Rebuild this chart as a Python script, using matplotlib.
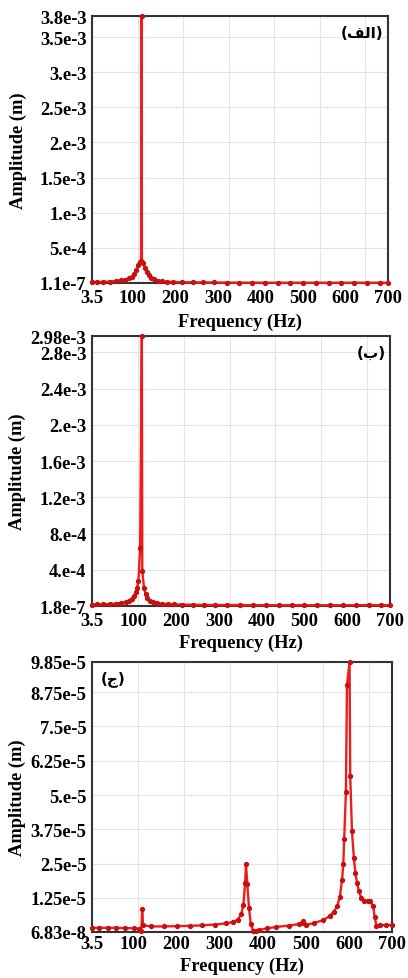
import numpy as np
import matplotlib
matplotlib.use('Agg')
import matplotlib.pyplot as plt

# ---- data ----
freqTicks = [3.5, 100, 200, 300, 400, 500, 600, 700]
freqTickLabels = ['3.5', '100', '200', '300', '400', '500', '600', '700']

# panel (alef)
freq1 = [3.5, 15, 30, 45, 60, 72, 82, 90, 97, 103, 108, 112, 116, 119, 120, 121, 124, 128,
         132, 137, 143, 150, 158, 168, 180, 195, 215, 240, 265, 290, 320, 350, 380, 410,
         440, 470, 500, 530, 560, 590, 620, 650, 680, 700]
amp1 = [1.4e-5, 1.5e-5, 1.7e-5, 2.1e-5, 2.8e-5, 3.6e-5, 4.8e-5, 6.5e-5, 9.0e-5, 1.3e-4,
        1.8e-4, 2.5e-4, 3.0e-4, 3.1e-4, 3.8e-3, 3.0e-4, 2.8e-4, 2.2e-4, 1.6e-4, 1.1e-4,
        7.5e-5, 5.0e-5, 3.4e-5, 2.4e-5, 1.8e-5, 1.5e-5, 1.2e-5, 1.0e-5, 9e-6, 8e-6, 6e-6,
        5e-6, 5e-6, 4.5e-6, 4.5e-6, 4e-6, 4e-6, 4e-6, 4e-6, 4e-6, 4e-6, 4e-6, 4e-6, 4e-6]
yTicks1 = [1.1e-7, 5e-4, 1e-3, 1.5e-3, 2e-3, 2.5e-3, 3e-3, 3.5e-3, 3.8e-3]
yTickLabels1 = ['1.1e-7', '5.e-4', '1.e-3', '1.5e-3', '2.e-3', '2.5e-3', '3.e-3', '3.5e-3', '3.8e-3']

# panel (beh)
freq2 = [3.5, 15, 30, 45, 60, 72, 82, 90, 97, 102, 106, 109, 112, 116, 120, 121, 125, 129,
         133, 139, 146, 155, 167, 180, 195, 215, 240, 265, 290, 320, 350, 380, 410, 440,
         470, 500, 530, 560, 590, 620, 650, 680, 700]
amp2 = [1.6e-5, 1.7e-5, 1.9e-5, 2.2e-5, 2.7e-5, 3.4e-5, 4.5e-5, 6.0e-5, 8.2e-5, 1.1e-4,
        1.5e-4, 2.0e-4, 2.8e-4, 6.4e-4, 2.98e-3, 3.9e-4, 2.0e-4, 1.3e-4, 8.5e-5, 5.8e-5,
        4.2e-5, 3.2e-5, 2.5e-5, 2.1e-5, 1.8e-5, 1.6e-5, 1.4e-5, 1.3e-5, 1.2e-5, 1.1e-5,
        1.05e-5, 1.0e-5, 1.0e-5, 9.5e-6, 9.5e-6, 9e-6, 9e-6, 9e-6, 9e-6, 9e-6, 1.1e-5,
        9e-6, 9e-6]
yTicks2 = [1.8e-7, 4e-4, 8e-4, 1.2e-3, 1.6e-3, 2e-3, 2.4e-3, 2.8e-3, 2.98e-3]
yTickLabels2 = ['1.8e-7', '4.e-4', '8.e-4', '1.2e-3', '1.6e-3', '2.e-3', '2.4e-3', '2.8e-3', '2.98e-3']

# panel (jeem)
freq3 = [3.5, 20, 40, 60, 80, 100, 112, 118, 120, 122, 140, 170, 200, 230, 260, 290, 315,
         332, 342, 350, 355, 359, 361, 364, 368, 372, 378, 384, 392, 410, 430, 460, 485,
         490, 494, 500, 520, 540, 555, 565, 573, 579, 584, 587, 589, 593, 595.5, 601.5,
         603, 607, 611.5, 615, 619, 623, 629, 636, 644, 650, 656, 660, 664, 672, 685, 700]
amp3 = [1.6e-6, 1.6e-6, 1.6e-6, 1.6e-6, 1.5e-6, 1.4e-6, 1.2e-6, 6e-7, 8.5e-6, 2.5e-6,
        2.1e-6, 2.1e-6, 2.2e-6, 2.3e-6, 2.5e-6, 2.8e-6, 3.2e-6, 3.8e-6, 4.6e-6, 6.5e-6,
        1.0e-5, 1.8e-5, 2.5e-5, 1.75e-5, 9e-6, 3e-6, 5e-7, 3e-7, 8e-7, 1.4e-6, 1.9e-6,
        2.4e-6, 3.0e-6, 3.3e-6, 4.2e-6, 2.6e-6, 3.4e-6, 4.4e-6, 5.8e-6, 7.5e-6, 9.5e-6,
        1.3e-5, 1.9e-5, 2.5e-5, 3.4e-5, 5.1e-5, 9.0e-5, 9.84e-5, 5.7e-5, 3.7e-5, 2.7e-5,
        2.15e-5, 1.8e-5, 1.5e-5, 1.25e-5, 1.15e-5, 1.15e-5, 1.12e-5, 9.5e-6, 5.5e-6,
        2.2e-6, 2.5e-6, 2.6e-6, 2.6e-6]
yTicks3 = [6.83e-8, 1.25e-5, 2.5e-5, 3.75e-5, 5e-5, 6.25e-5, 7.5e-5, 8.75e-5, 9.85e-5]
yTickLabels3 = ['6.83e-8', '1.25e-5', '2.5e-5', '3.75e-5', '5.e-5', '6.25e-5', '7.5e-5', '8.75e-5', '9.85e-5']

# Arabic panel tags, written in visual order with presentation forms
# (matplotlib does no Arabic shaping): "(الف)", "(ب)", "(ج)"
tag1 = '(\ufed2\ufedf\ufe8d)'
tag2 = '(\ufe8f)'
tag3 = '(\ufe9d)'

#%%
plt.rcParams['font.family'] = ['Liberation Serif', 'DejaVu Serif']
plt.rcParams['font.weight'] = 'bold'

fig = plt.figure(figsize=(4.08, 9.79), dpi=100)

W, H = 408.0, 979.0
# left, right, top, bottom in pixels for each panel
boxes = [(92, 388, 17, 284), (92, 390, 337, 607), (92, 392, 663, 933)]
panels = [(freq1, amp1, yTicks1, yTickLabels1, tag1, 'right', -0.142, 4),
          (freq2, amp2, yTicks2, yTickLabels2, tag2, 'right', -0.136, 4),
          (freq3, amp3, yTicks3, yTickLabels3, tag3, 'left', -0.124, 2.5)]

lineColor = '#ee1c1c'
dotColor = '#c81010'
fs = 13.3

for (l, r, t, b), (fr, am, yt, ytl, tag, tagSide, xlabY, xpad) in zip(boxes, panels):
    ax = fig.add_axes([l / W, 1 - b / H, (r - l) / W, (b - t) / H])
    ax.plot(fr, am, color=lineColor, lw=1.7, marker='o', ms=2.8,
            mfc=dotColor, mec=dotColor, clip_on=False, zorder=5)
    ax.set_xlim(3.5, 700)
    ax.set_ylim(yt[0], yt[-1])
    ax.set_xticks(freqTicks)
    ax.set_xticklabels(freqTickLabels)
    ax.set_yticks(yt)
    ax.set_yticklabels(ytl)
    # faint grid as in the source software (x grid spaced independent of labels)
    ax.set_xticks(3.5 + np.arange(1, 7) * (696.5 / 6.5), minor=True)
    ax.grid(which='minor', axis='x', color='#e4e4e4', lw=0.8)
    ax.grid(which='major', axis='y', color='#e4e4e4', lw=0.8)
    ax.tick_params(which='both', length=0)
    ax.tick_params(axis='x', labelsize=fs, pad=xpad)
    ax.tick_params(axis='y', labelsize=fs, pad=4)
    for sp in ax.spines.values():
        sp.set_color('#333333')
        sp.set_linewidth(1.5)
    ax.set_xlabel('Frequency (Hz)', fontsize=fs, fontweight='bold')
    ax.xaxis.set_label_coords(0.5, xlabY)
    ax.xaxis.label.set_va('center')
    ax.set_ylabel('Amplitude (m)', fontsize=fs, fontweight='bold')
    ax.yaxis.set_label_coords(-0.25, 0.5)
    ax.yaxis.label.set_va('center')
    if tagSide == 'right':
        ax.text(0.985, 0.94, tag, transform=ax.transAxes, ha='right', va='center',
                fontsize=11, family=['DejaVu Sans'])
    else:
        ax.text(0.03, 0.94, tag, transform=ax.transAxes, ha='left', va='center',
                fontsize=11, family=['DejaVu Sans'])

fig.savefig('out.png', dpi=100)
